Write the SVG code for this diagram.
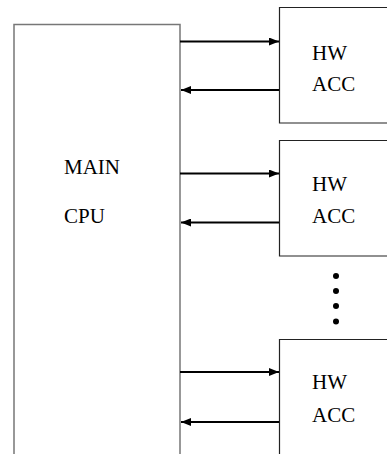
<svg xmlns="http://www.w3.org/2000/svg" width="387" height="454" viewBox="0 0 387 454">
<style>
.cpu{fill:#fff;stroke:#777;stroke-width:1.5}
.acc{fill:#fff;stroke:#222;stroke-width:1.2}
.t{font-family:"Liberation Serif","Times New Roman",serif;font-size:21px;fill:#000}
.c{stroke:#000;stroke-width:2;fill:none}
</style>
<defs>
<marker id="ah" viewBox="0 0 10 8" refX="10" refY="4" markerWidth="10" markerHeight="8" markerUnits="userSpaceOnUse" orient="auto">
<path d="M0,0 L10,4 L0,8 Z" fill="#000"/>
</marker>
</defs>
<g id="main-cpu">
<path class="cpu" d="M14,460 V24.5 H180 V460"/>
<text class="t" x="64" y="174">MAIN</text>
<text class="t" x="64" y="223">CPU</text>
</g>
<g id="hw-acc-1">
<path class="acc" d="M395,7.5 H279.5 V123 H395"/>
<text class="t" x="312" y="60">HW</text>
<text class="t" x="312" y="91">ACC</text>
</g>
<g id="hw-acc-2">
<path class="acc" d="M395,140.5 H279.5 V256 H395"/>
<text class="t" x="312" y="191">HW</text>
<text class="t" x="312" y="223">ACC</text>
</g>
<g id="hw-acc-3">
<path class="acc" d="M395,339.5 H279.5 V460"/>
<text class="t" x="312" y="389">HW</text>
<text class="t" x="312" y="422">ACC</text>
</g>
<g id="dots">
<circle cx="336" cy="276" r="3"/>
<circle cx="336" cy="291" r="3"/>
<circle cx="336" cy="306" r="3"/>
<circle cx="336" cy="321.5" r="3"/>
</g>
<g id="connectors">
<line class="c" x1="180" y1="41.5" x2="279" y2="41.5" marker-end="url(#ah)"/>
<line class="c" x1="279" y1="90" x2="181" y2="90" marker-end="url(#ah)"/>
<line class="c" x1="180" y1="173.5" x2="279" y2="173.5" marker-end="url(#ah)"/>
<line class="c" x1="279" y1="222.5" x2="181" y2="222.5" marker-end="url(#ah)"/>
<line class="c" x1="180" y1="372" x2="279" y2="372" marker-end="url(#ah)"/>
<line class="c" x1="279" y1="422" x2="181" y2="422" marker-end="url(#ah)"/>
</g>
</svg>
